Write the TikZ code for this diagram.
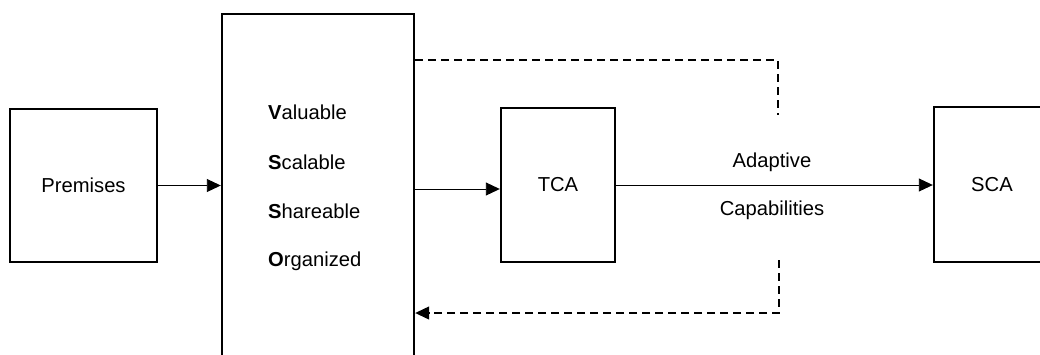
\documentclass[tikz,border=0pt]{standalone}
\usepackage{fontspec}
\setmainfont{Liberation Sans}
\usetikzlibrary{arrows.meta,calc}
\tikzset{
  txt/.style={font=\fontsize{20.2}{23}\selectfont},
  block/.style={draw, line width=2.4pt, inner sep=0pt, txt},
  link/.style={line width=0.9pt, -{Triangle[length=14pt,width=13pt]}},
  feedback/.style={line width=1.2pt, dash pattern=on 8pt off 5pt},
  lbl/.style={txt, inner sep=0pt, anchor=base west}
}
\begin{document}
\begin{tikzpicture}[x=1pt,y=-1pt]
\clip (0,0) rectangle (1040,354);
\fill[white] (0,0) rectangle (1040,354);

% boxes
\node[block, minimum width=147pt, minimum height=153pt] (prem) at (83.5,185.5) {Premises};
\node[block, minimum width=192pt, minimum height=380pt] (vsso) at (318,204) {};
\node[block, minimum width=114pt, minimum height=154pt] (tca) at (558,185) {TCA};
\node[block, minimum width=116pt, minimum height=155pt] (sca) at (992,184.5) {SCA};

% attributes inside the central box
\node[lbl] (v) at (268,119) {\textbf{V}aluable};
\node[lbl] (s1) at (268,169) {\textbf{S}calable};
\node[lbl] (s2) at (268,218) {\textbf{S}hareable};
\node[lbl] (o) at (268,266) {\textbf{O}rganized};

% solid connectors
\draw[link] (prem.east) -- (prem.east -| vsso.west);
\coordinate (tin) at ([yshift=-4pt]tca.west);
\draw[link] (tin -| vsso.east) -- (tin);
\draw[link] (tca.east) -- (tca.east -| sca.west);
\node[txt] (ad) at (772,162) {Adaptive};
\node[txt] (cap) at (772,210) {Capabilities};

% dashed feedback paths
\coordinate (up) at (778,115);
\coordinate (dn) at (779,260);
\draw[feedback] (vsso.east |- 0,60) -| (up);
\draw[feedback, -{Triangle[length=14pt,width=13pt]}] (dn) |- (vsso.east |- 0,313);
\end{tikzpicture}
\end{document}
